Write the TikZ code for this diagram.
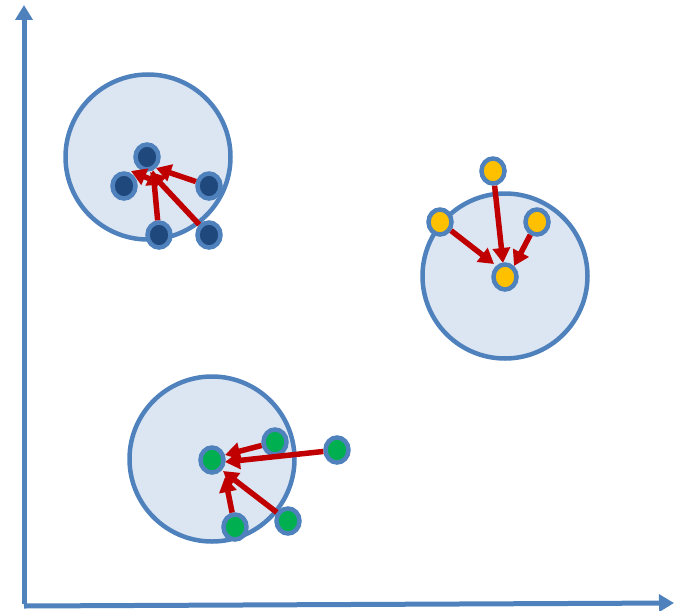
\documentclass[tikz,border=0pt]{standalone}
\usetikzlibrary{arrows.meta,shapes.geometric}
\definecolor{axisblue}{HTML}{4F81BD}
\definecolor{clusterfill}{HTML}{DCE6F2}
\definecolor{darkdot}{HTML}{1F497D}
\definecolor{yellowdot}{HTML}{FFC000}
\definecolor{greendot}{HTML}{00B050}
\definecolor{arrred}{HTML}{C00000}
\begin{document}
\begin{tikzpicture}[x=1pt,y=-1pt,
  axis/.style={draw=axisblue,line width=5pt,-{Triangle[length=15pt,width=17pt]}},
  cluster/.style={circle,draw=axisblue,fill=clusterfill,line width=4.5pt,minimum size=165pt,inner sep=0pt},
  dot/.style={ellipse,draw=axisblue,line width=4.5pt,minimum width=23pt,minimum height=25pt,inner sep=0pt},
  arr/.style={draw=arrred,line width=5.5pt,-{Triangle[length=15pt,width=17pt]}}]
\useasboundingbox (0,0) rectangle (679,610);
% axes
\coordinate (o) at (24,604);
\coordinate (ytop) at (24,5);
\coordinate (ox) at (24,606);
\coordinate (xend) at (674,603);
\draw[axis] (o) -- (ytop);
\draw[axis] (ox) -- (xend);
% clusters
\node[cluster] (c1) at (148,157) {};
\node[cluster] (c2) at (505,276) {};
\node[cluster] (c3) at (212,459) {};
% top-left cluster
\node[dot,fill=darkdot] (a1) at (147,157) {};
\node[dot,fill=darkdot] (a2) at (124,186) {};
\node[dot,fill=darkdot] (a3) at (209,186) {};
\node[dot,fill=darkdot] (a4) at (159,235) {};
\node[dot,fill=darkdot] (a5) at (209,235) {};
\coordinate (ta1) at (156,168);
\coordinate (ta2) at (153,170);
\coordinate (ta3) at (150,172);
\coordinate (ta4) at (131,171);
\coordinate (sa4) at (150,179);
\draw[arr] (a3) -- (ta1);
\draw[arr] (a4) -- (ta2);
\draw[arr] (a5) -- (ta3);
\draw[arr] (sa4) -- (ta4);
% right cluster
\node[dot,fill=yellowdot] (b1) at (505,277) {};
\node[dot,fill=yellowdot] (b2) at (493,171) {};
\node[dot,fill=yellowdot] (b3) at (440,222) {};
\node[dot,fill=yellowdot] (b4) at (537,222) {};
\coordinate (tb2) at (503,263);
\coordinate (tb3) at (494,264);
\coordinate (tb4) at (514,266);
\draw[arr] (b2) -- (tb2);
\draw[arr] (b3) -- (tb3);
\draw[arr] (b4) -- (tb4);
% bottom cluster
\node[dot,fill=greendot] (g1) at (212,460) {};
\node[dot,fill=greendot] (g2) at (275,442) {};
\node[dot,fill=greendot] (g3) at (337,450) {};
\node[dot,fill=greendot] (g4) at (235,527) {};
\node[dot,fill=greendot] (g5) at (288,521) {};
\coordinate (tg2) at (225,455);
\coordinate (tg3) at (225,462);
\coordinate (tg4) at (225,477);
\coordinate (tg5) at (223,471);
\draw[arr] (g2) -- (tg2);
\draw[arr] (g3) -- (tg3);
\draw[arr] (g4) -- (tg4);
\draw[arr] (g5) -- (tg5);
\end{tikzpicture}
\end{document}
